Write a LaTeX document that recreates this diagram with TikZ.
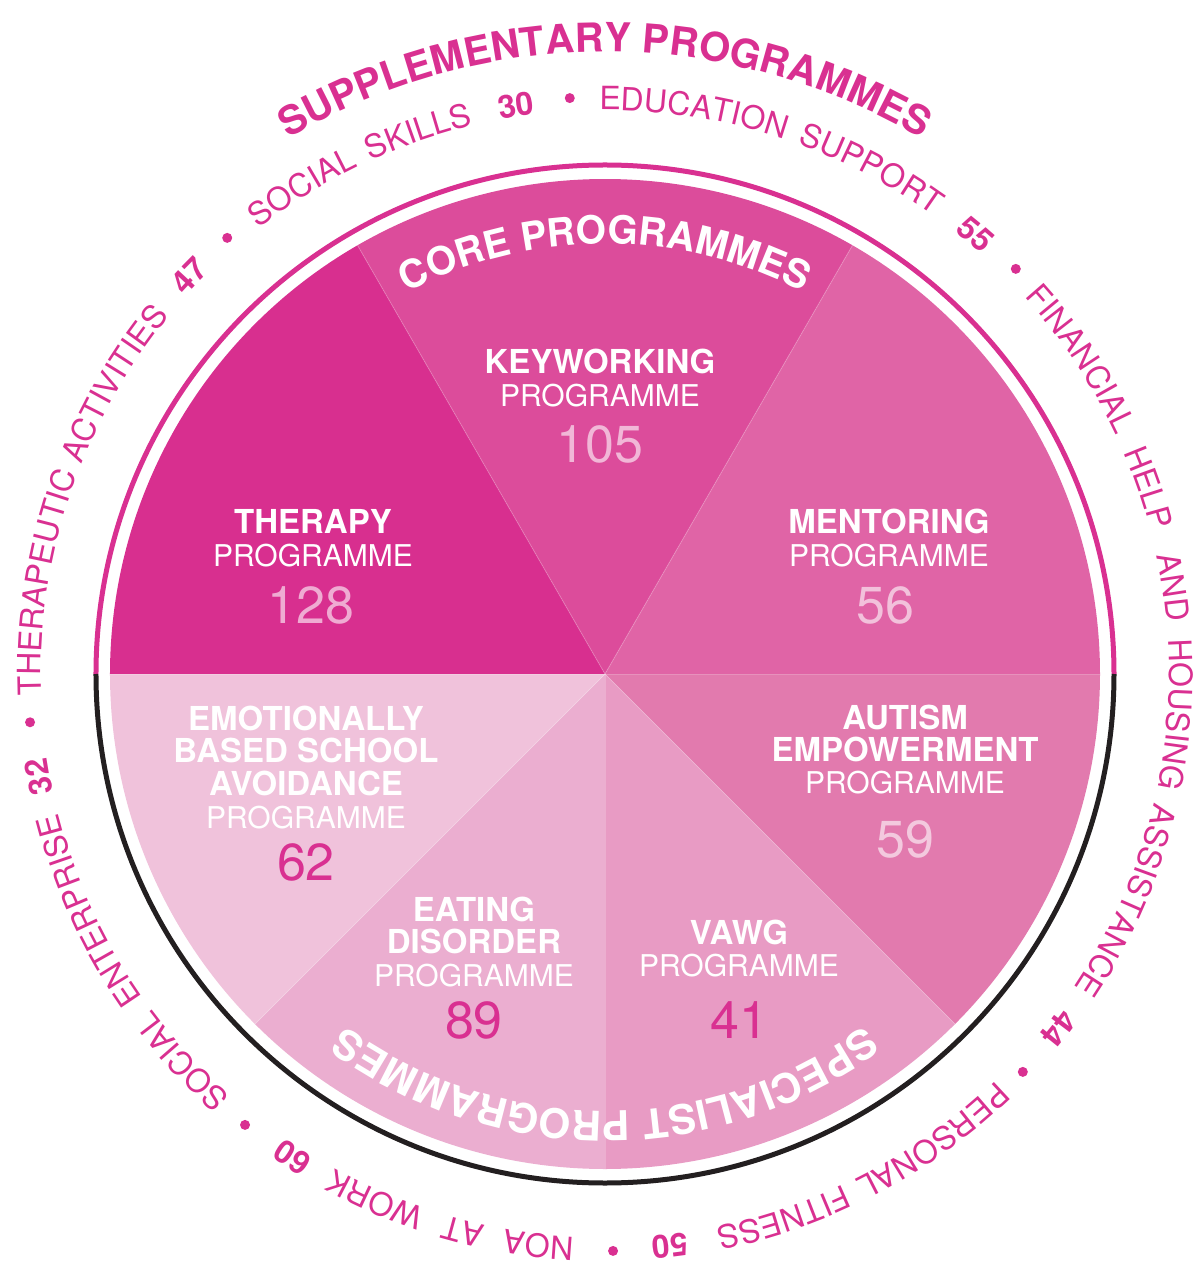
\documentclass[tikz,border=0pt]{standalone}
\usepackage{fontspec}
\newfontfamily\heros{TeX Gyre Heros}
\usetikzlibrary{decorations.text}
\definecolor{mag}{RGB}{217,48,145}
\definecolor{cTher}{RGB}{216,47,143}
\definecolor{cKey}{RGB}{220,76,155}
\definecolor{cMen}{RGB}{224,100,166}
\definecolor{cAut}{RGB}{226,122,174}
\definecolor{cVaw}{RGB}{232,155,196}
\definecolor{cEat}{RGB}{235,174,208}
\definecolor{cEbs}{RGB}{240,194,219}
\definecolor{ringblack}{RGB}{35,31,32}
\newcommand\ringreg{\heros\fontsize{32}{38}\selectfont}
\newcommand\ringbold{\heros\bfseries\fontsize{32}{38}\selectfont}
\newcommand\bigbold{\heros\bfseries\fontsize{39}{46}\selectfont}
\newcommand\supbold{\heros\bfseries\fontsize{40}{46}\selectfont}
\newcommand\specbold{\heros\bfseries\fontsize{41}{46}\selectfont}
\newcommand\ringword[3]{%
  \path[decorate,decoration={text along path,text color=mag,text align=center,text={|#2|#3}}]
    ({#1+60}:564pt) arc[start angle={#1+60},end angle={#1-60},radius=564pt];}
\newcommand\ringdot[1]{\fill[mag] (#1:577pt) circle[radius=5pt];}
\begin{document}
\begin{tikzpicture}[x=1pt,y=1pt,
  lbold/.style={font=\heros\bfseries\fontsize{33}{38}\selectfont,text=white,anchor=base,inner sep=0pt},
  lreg/.style={font=\heros\fontsize{30}{36}\selectfont,text=white,anchor=base,inner sep=0pt},
  numlight/.style={font=\heros\fontsize{52}{60}\selectfont,text=white,text opacity=0.6,anchor=base,inner sep=0pt},
  numdark/.style={font=\heros\fontsize{52}{60}\selectfont,text=mag,anchor=base,inner sep=0pt},
  divider/.style={draw=white,draw opacity=0.18,line width=1pt}]
\useasboundingbox (-605,-592) rectangle (599,674);
% pie sectors
\fill[cTher] (0,0) -- (120:495pt) arc[start angle=120,end angle=180,radius=495pt] -- cycle;
\fill[cKey]  (0,0) -- (60:495pt) arc[start angle=60,end angle=120,radius=495pt] -- cycle;
\fill[cMen]  (0,0) -- (0:495pt) arc[start angle=0,end angle=60,radius=495pt] -- cycle;
\fill[cAut]  (0,0) -- (-45:495pt) arc[start angle=-45,end angle=0,radius=495pt] -- cycle;
\fill[cVaw]  (0,0) -- (-90:495pt) arc[start angle=-90,end angle=-45,radius=495pt] -- cycle;
\fill[cEat]  (0,0) -- (-135:495pt) arc[start angle=-135,end angle=-90,radius=495pt] -- cycle;
\fill[cEbs]  (0,0) -- (-180:495pt) arc[start angle=-180,end angle=-135,radius=495pt] -- cycle;
\foreach \a in {0,60,120,180,-45,-90,-135} \draw[divider] (0,0) -- (\a:495pt);
% outer ring
\draw[mag,line width=5pt] (180:509pt) arc[start angle=180,end angle=0,radius=509pt];
\draw[ringblack,line width=5pt] (180:509pt) arc[start angle=180,end angle=360,radius=509pt];
% curved titles
\path[decorate,decoration={text along path,text color=white,text align=center,text={|\bigbold|CORE PROGRAMMES}}]
  (150:430pt) arc[start angle=150,end angle=30,radius=430pt];
\path[decorate,decoration={text along path,text color=white,text align=center,text={|\specbold|SPECIALIST PROGRAMMES}}]
  (-10:437pt) arc[start angle=-10,end angle=-170,radius=437pt];
\path[decorate,decoration={text along path,text color=mag,text align=center,text={|\supbold|SUPPLEMENTARY PROGRAMMES}}]
  (165:622pt) arc[start angle=165,end angle=15,radius=622pt];
% supplementary items
\ringword{121.9}{\ringreg}{SOCIAL}
\ringword{109.0}{\ringreg}{SKILLS}
\ringword{98.9}{\ringbold}{30}
\ringdot{93.5}
\ringword{81.0}{\ringreg}{EDUCATION}
\ringword{62.2}{\ringreg}{SUPPORT}
\ringword{49.9}{\ringbold}{55}
\ringdot{44.6}
\ringword{33.5}{\ringreg}{FINANCIAL}
\ringword{18.9}{\ringreg}{HELP}
\ringword{8.7}{\ringreg}{AND}
\ringword{-4.1}{\ringreg}{HOUSING}
\ringword{-23.5}{\ringreg}{ASSISTANCE}
\ringword{-38.0}{\ringbold}{44}
\ringdot{-43.6}
\ringword{-54.9}{\ringreg}{PERSONAL}
\ringword{-71.8}{\ringreg}{FITNESS}
\ringword{-83.5}{\ringbold}{50}
\ringdot{-89.2}
\ringword{-96.6}{\ringreg}{NOA}
\ringword{-104.3}{\ringreg}{AT}
\ringword{-113.6}{\ringreg}{WORK}
\ringword{-122.9}{\ringbold}{60}
\ringdot{-128.6}
\ringword{-137.5}{\ringreg}{SOCIAL}
\ringword{-155.4}{\ringreg}{ENTERPRISE}
\ringword{-169.7}{\ringbold}{32}
\ringdot{-175.2}
\ringword{170.7}{\ringreg}{THERAPEUTIC}
\ringword{149.4}{\ringreg}{ACTIVITIES}
\ringword{136.2}{\ringbold}{47}
\ringdot{130.9}
% labels
\node[lbold] (ther1) at (-292,140) {THERAPY};
\node[lreg] (ther2) at (-292,107) {PROGRAMME};
\node[numlight] (ther3) at (-294,50) {128};
\node[lbold] (key1) at (-5,300) {KEYWORKING};
\node[lreg] (key2) at (-5,267) {PROGRAMME};
\node[numlight] (key3) at (-5,211) {105};
\node[lbold] (men1) at (284,140) {MENTORING};
\node[lreg] (men2) at (284,107) {PROGRAMME};
\node[numlight] (men3) at (280,50) {56};
\node[lbold] (aut1) at (300,-55) {AUTISM};
\node[lbold] (aut2) at (300,-87) {EMPOWERMENT};
\node[lreg] (aut3) at (300,-119) {PROGRAMME};
\node[numlight] (aut4) at (300,-183) {59};
\node[lbold] (ebs1) at (-299,-56) {EMOTIONALLY};
\node[lbold] (ebs2) at (-299,-88) {BASED SCHOOL};
\node[lbold] (ebs3) at (-299,-121) {AVOIDANCE};
\node[lreg] (ebs4) at (-299,-154) {PROGRAMME};
\node[numdark] (ebs5) at (-299,-206) {62};
\node[lbold] (eat1) at (-131,-247) {EATING};
\node[lbold] (eat2) at (-131,-279) {DISORDER};
\node[lreg] (eat3) at (-131,-312) {PROGRAMME};
\node[numdark] (eat4) at (-131,-364) {89};
\node[lbold] (vaw1) at (134,-270) {VAWG};
\node[lreg] (vaw2) at (134,-302) {PROGRAMME};
\node[numdark] (vaw3) at (134,-364) {41};
\end{tikzpicture}
\end{document}
